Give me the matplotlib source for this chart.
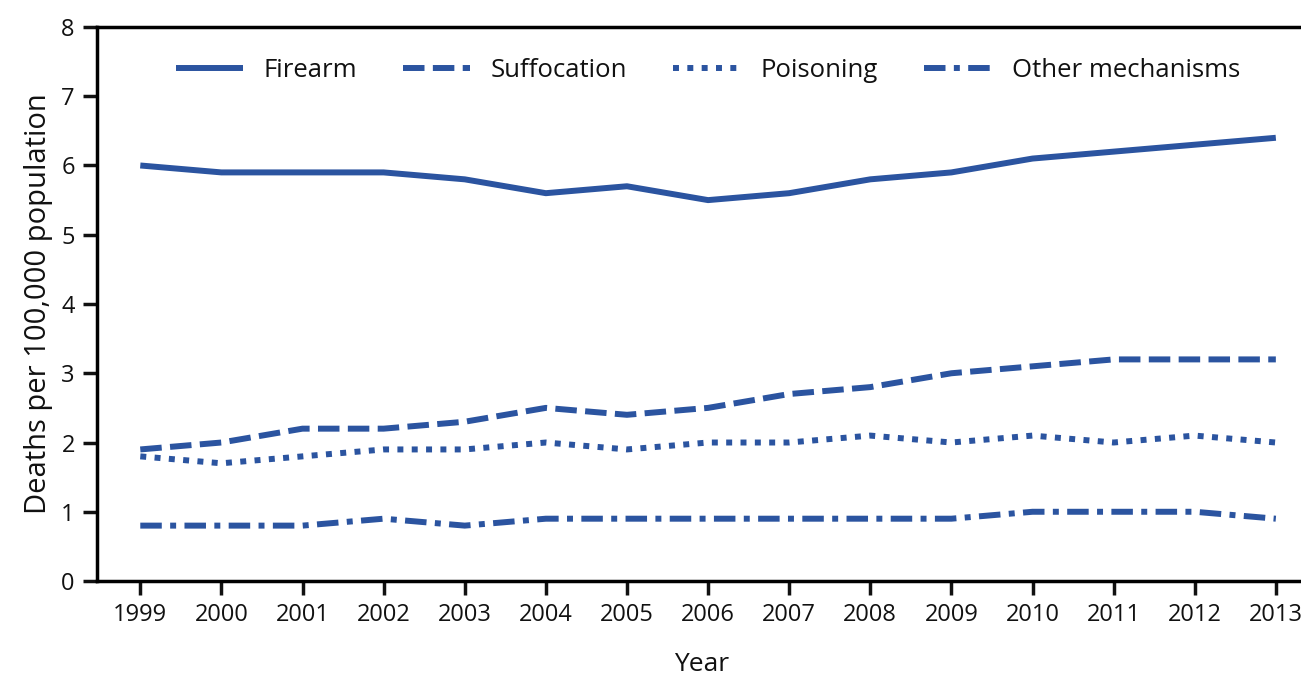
import matplotlib
matplotlib.use('Agg')
import matplotlib.pyplot as plt

years = list(range(1999, 2014))
firearm = [6.0, 5.9, 5.9, 5.9, 5.8, 5.6, 5.7, 5.5, 5.6, 5.8, 5.9, 6.1, 6.2, 6.3, 6.4]
suffocation = [1.9, 2.0, 2.2, 2.2, 2.3, 2.5, 2.4, 2.5, 2.7, 2.8, 3.0, 3.1, 3.2, 3.2, 3.2]
poisoning = [1.8, 1.7, 1.8, 1.9, 1.9, 2.0, 1.9, 2.0, 2.0, 2.1, 2.0, 2.1, 2.0, 2.1, 2.0]
other = [0.8, 0.8, 0.8, 0.9, 0.8, 0.9, 0.9, 0.9, 0.9, 0.9, 0.9, 1.0, 1.0, 1.0, 0.9]

BLUE = '#2b54a0'
plt.rcParams['font.family'] = ['Open Sans', 'DejaVu Sans']

fig = plt.figure(figsize=(13.01, 6.81), dpi=100)
ax = fig.add_axes([0.0746, 0.1468, 0.93, 0.8136])

lw = 4.3
ax.plot(years, firearm, color=BLUE, lw=lw, solid_capstyle='butt', label='Firearm')
ax.plot(years, suffocation, color=BLUE, lw=lw, dashes=(3.6, 1.4), dash_capstyle='butt', label='Suffocation')
ax.plot(years, poisoning, color=BLUE, lw=lw, dashes=(1, 1.4), dash_capstyle='butt', label='Poisoning')
ax.plot(years, other, color=BLUE, lw=lw, dashes=(3.6, 1.4, 1, 1.4), dash_capstyle='butt', label='Other mechanisms')

ax.set_xlim(1998.467, 2013.384)
ax.set_ylim(0, 8)
ax.set_xticks(years)
ax.set_yticks(range(0, 9))
ax.spines['right'].set_visible(False)
for s in ['left', 'bottom', 'top']:
    ax.spines[s].set_linewidth(2.5)
ax.tick_params(axis='both', width=2.5, length=10, labelsize=17, pad=6, colors='#111111')
ax.set_xlabel('Year', fontsize=19, labelpad=18, color='#111111')
ax.set_ylabel('Deaths per 100,000 population', fontsize=21, labelpad=6, color='#111111')

ax.legend(ncol=4, loc='upper center', bbox_to_anchor=(0.505, 0.985), frameon=False,
          fontsize=18.5, handlelength=2.6, columnspacing=1.8, handletextpad=0.8,
          labelcolor='#111111')

fig.savefig('out.png', dpi=100)
